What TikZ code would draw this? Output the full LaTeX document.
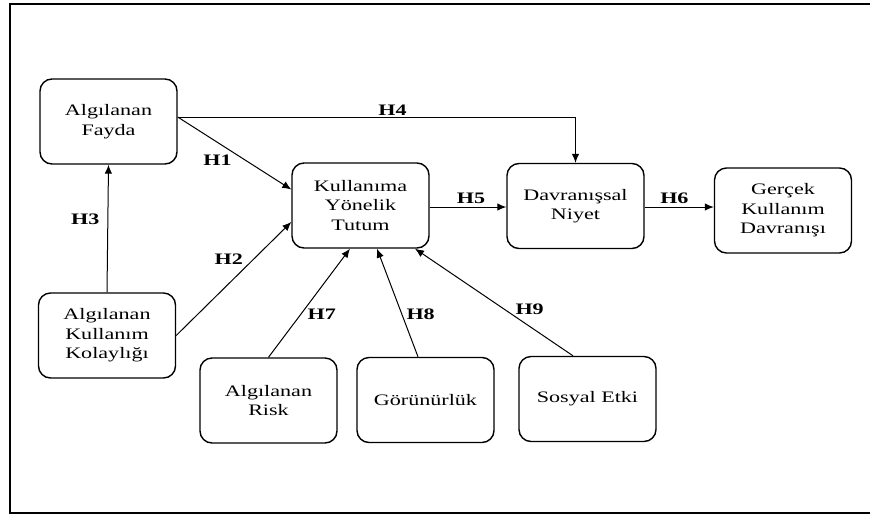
\documentclass[tikz,border=0pt]{standalone}
\usepackage{fontspec}
\setmainfont{Liberation Serif}[FakeStretch=1.38]
\usetikzlibrary{positioning,arrows.meta}

\begin{document}
\begin{tikzpicture}[x=1pt,y=-1pt,
    kutu/.style={draw,line width=1.4pt,rounded corners=12pt,minimum width=137pt,
      minimum height=85pt,align=center,font=\fontsize{16}{19.5}\selectfont},
    ok/.style={line width=1pt,-{Latex[length=9pt,width=7.5pt]}},
    hip/.style={font=\fontsize{16}{16}\selectfont\bfseries,inner sep=0pt}]
        \useasboundingbox (0,0) rectangle (870,515);
        \draw[line width=2pt] (10,3.5) rectangle (880,513);

        \node[kutu] at (108.5,121.5) (fayda) {Algılanan\\Fayda};
        \node[kutu] at (360.5,205.5) (tutum) {Kullanıma\\Yönelik\\Tutum};
        \node[kutu] at (575.5,206) (niyet) {Davranışsal\\Niyet};
        \node[kutu] at (783,210.5) (gercek) {Gerçek\\Kullanım\\Davranışı};
        \node[kutu] at (107,335.5) (kolay) {Algılanan\\Kullanım\\Kolaylığı};
        \node[kutu] at (268.5,400.5) (risk) {Algılanan\\Risk};
        \node[kutu] at (425.5,400) (gorunur) {Görünürlük};
        \node[kutu] at (587.5,399) (sosyal) {Sosyal Etki};

        \draw[ok] ([yshift=4.5pt]fayda.east) -- node[hip,pos=.35,below=12pt]{H1} ([yshift=16pt]tutum.west);
        \draw[ok] (kolay.east) -- node[hip,pos=.67,left=10pt]{H2} ([yshift=-16.5pt]tutum.west);
        \draw[ok] (kolay.north) -- node[hip,pos=.57,left=8pt]{H3} (fayda.south);
        \draw[ok] ([yshift=4.5pt]fayda.east) -| node[hip,pos=.27,above=1pt]{H4} (niyet.north);
        \draw[ok] ([yshift=-1.5pt]tutum.east) -- node[hip,pos=.54,above=3pt]{H5} ([yshift=-1pt]niyet.west);
        \draw[ok] ([yshift=-1pt]niyet.east) -- node[hip,pos=.43,above=3pt]{H6} ([yshift=3.5pt]gercek.west);
        \draw[ok] (risk.north) -- node[hip,pos=.4,right=6pt]{H7} ([xshift=-10.5pt]tutum.south);
        \draw[ok] ([xshift=-7.5pt]gorunur.north) -- node[hip,pos=.39,right=4pt]{H8} ([xshift=16.5pt]tutum.south);
        \draw[ok] ([xshift=-14.5pt]sosyal.north) -- node[hip,pos=.43,right=10pt]{H9} ([xshift=54.5pt]tutum.south);
      \end{tikzpicture}
\end{document}
